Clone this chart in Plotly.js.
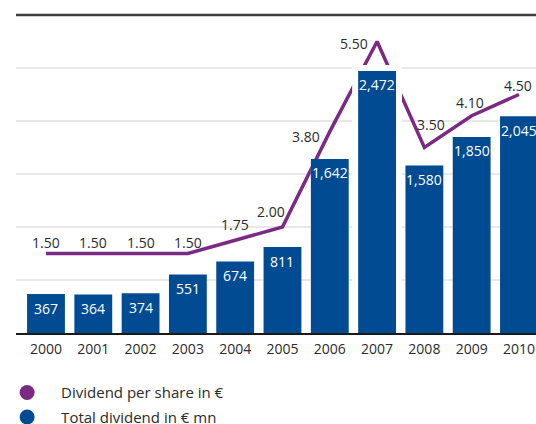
<!DOCTYPE html>
<html>
<head>
<meta charset="utf-8">
<script src="https://cdn.plot.ly/plotly-3.0.1.min.js"></script>
<style>html,body{margin:0;padding:0;background:#fff;}#chart{width:536px;height:424px;}</style>
</head>
<body>
<div id="chart"></div>
<script>
// ---- data ----
const years = ["2000","2001","2002","2003","2004","2005","2006","2007","2008","2009","2010"];
const dividendPerShare = [1.50, 1.50, 1.50, 1.50, 1.75, 2.00, 3.80, 5.50, 3.50, 4.10, 4.50];
const totalDividend = [367, 364, 374, 551, 674, 811, 1642, 2472, 1580, 1850, 2045];
const seriesNames = ["Dividend per share in €", "Total dividend in € mn"];

// ---- styles ----
const PURPLE = "#7b2a83";
const BLUE = "#004b91";
const TEXT = "#2b2b2b";
const FONT = "Open Sans, sans-serif";
// label offsets (px) for the per-share labels, relative to each point
const dpsLabelDx = [0, 0, 0, 0, 0, -11, -24, -23, 7, -2, -1];
const dpsLabelDy = [11, 11, 11, 11, 16, 16, -5, -2, 23, 13, 9];
// white halo width around bars (only the 2007 bar is cut out from the line)
const haloWidth = years.map(y => (y === "2007" ? 12 : 0));

const lineTrace = {
  type: "scatter", mode: "lines", x: years, y: dividendPerShare,
  xaxis: "x", yaxis: "y", name: seriesNames[0], showlegend: false,
  line: {color: PURPLE, width: 3.5}, hoverinfo: "skip"
};
const haloTrace = {
  type: "bar", x: years, y: totalDividend, xaxis: "x", yaxis: "y2",
  width: 0.8, showlegend: false, hoverinfo: "skip",
  marker: {color: "#ffffff", line: {color: "#ffffff", width: haloWidth}}
};
const barTrace = {
  type: "bar", x: years, y: totalDividend, xaxis: "x", yaxis: "y2",
  width: 0.8, name: seriesNames[1], showlegend: false,
  marker: {color: BLUE, line: {width: 0}}
};
const legendDps = {
  type: "scatter", mode: "markers", x: [null], y: [null], name: seriesNames[0],
  legendgroup: "a", marker: {color: PURPLE, size: 15, symbol: "circle"}
};
const legendTotal = {
  type: "scatter", mode: "markers", x: [null], y: [null], name: seriesNames[1],
  legendgroup: "b", marker: {color: BLUE, size: 15, symbol: "circle"}
};

// annotations on a category axis use the category index as x
const annotations = [];
years.forEach((yr, i) => {
  annotations.push({
    x: i, y: dividendPerShare[i], xref: "x", yref: "y",
    text: dividendPerShare[i].toFixed(2), showarrow: false,
    xanchor: "center", yanchor: "middle",
    xshift: dpsLabelDx[i], yshift: dpsLabelDy[i],
    font: {family: FONT, size: 14, color: TEXT}
  });
  annotations.push({
    x: i, y: totalDividend[i], xref: "x", yref: "y2",
    text: totalDividend[i].toLocaleString("en-US"), showarrow: false,
    xanchor: "center", yanchor: "middle", yshift: -14,
    font: {family: FONT, size: 14, color: "#ffffff"}
  });
});

const layout = {
  width: 536, height: 424,
  margin: {l: 16, r: 0, t: 15, b: 91, pad: 0, autoexpand: false},
  paper_bgcolor: "#ffffff", plot_bgcolor: "#ffffff",
  barmode: "overlay",
  font: {family: FONT, size: 14, color: TEXT},
  xaxis: {
    type: "category", range: [-0.634, 10.36],
    showgrid: false, zeroline: false,
    showline: true, linecolor: "#1a1a1a", linewidth: 1.5,
    ticks: "", ticklabelstandoff: 3,
    tickfont: {family: FONT, size: 14, color: TEXT}
  },
  yaxis: {
    range: [0, 6], dtick: 1, showgrid: true, gridcolor: "#e8e8e8", gridwidth: 1.5,
    zeroline: false, showticklabels: false, ticks: "", showline: false
  },
  yaxis2: {
    range: [0, 3000], overlaying: "y", side: "right",
    showgrid: false, zeroline: false, showticklabels: false, ticks: "", showline: false
  },
  shapes: [{
    type: "line", xref: "paper", yref: "paper", x0: 0, x1: 1, y0: 1, y1: 1,
    line: {color: "#3d3d3d", width: 2.5}, layer: "above"
  }],
  annotations: annotations,
  showlegend: true,
  legend: {
    orientation: "v", x: -0.044, xanchor: "left", y: -0.136, yanchor: "top",
    itemwidth: 58, tracegroupgap: 2, traceorder: "grouped",
    font: {family: FONT, size: 15, color: TEXT}, bgcolor: "rgba(0,0,0,0)",
    borderwidth: 0
  }
};

Plotly.newPlot("chart", [lineTrace, haloTrace, barTrace, legendDps, legendTotal], layout,
  {displayModeBar: false, staticPlot: true});
</script>
</body>
</html>
